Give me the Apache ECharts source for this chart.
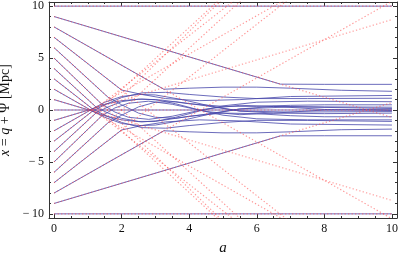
<!DOCTYPE html>
<html><head><meta charset="utf-8">
<script src="https://cdn.jsdelivr.net/npm/echarts@6/dist/echarts.min.js"></script>
<style>html,body{margin:0;padding:0;background:#fff}#c{width:399px;height:255px}</style>
</head><body><div id="c"></div>
<script>
// Lagrangian sheet positions q (start values at a = 0)
const qValues = [-10,-9,-8,-7,-6,-5,-4,-3,-2,-1,0,1,2,3,4,5,6,7,8,9,10];
// Zel'dovich straight-line end values at a = 10 (dotted red lines), same order as qValues
const zaEndAt10 = [-10,0.71,10.47,18.42,23.88,26.42,25.88,22.42,16.47,8.71,0,-8.71,-16.47,-22.42,-25.88,-26.42,-23.88,-18.42,-10.47,-0.71,10];

// actual trajectories (blue/purple), [a, x]
const sheetM10 = [[0,-10],[10,-10]];
const sheetM9 = [[0,-9],[6.7,-2.49],[8,-2.48],[10,-2.48]];
const sheetM8 = [[0,-8],[3.25,-2.0],[4,-2.1],[5,-2.2],[6,-2.2],[7,-2.1],[8.5,-1.9],[10,-1.84]];
const sheetM7 = [[0,-7],[2.0,-1.92],[2.6,-1.5],[3.3,-1.15],[4.3,-0.95],[5.5,-1.05],[7,-1.35],[10,-1.45]];
const sheetM6 = [[0,-6],[1.6,-1.22],[2,-0.5],[2.5,0.3],[3,0.75],[3.6,0.8],[4.5,0.4],[5.5,-0.1],[7,-0.2],[10,-0.15]];
const sheetM5 = [[0,-5],[1.4,-0.6],[1.8,0.2],[2.2,0.65],[2.8,0.85],[3.5,0.55],[4.5,-0.15],[5.5,-0.45],[6.5,-0.3],[8,0.0],[10,0.08]];
const sheetM4 = [[0,-4],[1.25,-0.26],[1.6,0.3],[2,0.8],[2.5,1.05],[3,1.0],[3.6,0.6],[4.3,0.0],[5,-0.5],[6,-0.85],[7.5,-0.95],[10,-0.95]];
const sheetM3 = [[0,-3],[1.13,-0.13],[1.5,0.5],[2,1.2],[2.6,1.65],[3.3,1.7],[4,1.5],[5,1.25],[6,1.1],[7.5,1.1],[10,1.13]];
const sheetM2 = [[0,-2],[1.08,0],[1.5,0.75],[2,1.3],[2.5,1.5],[3,1.45],[3.8,1.0],[4.6,0.4],[5.5,-0.1],[6.5,-0.3],[8,-0.35],[10,-0.3]];
const sheetM1 = [[0,-1],[1.05,0.02],[1.5,0.55],[2,0.9],[2.6,1.05],[3.2,0.95],[4,0.6],[5,0.35],[6,0.35],[7,0.45],[8,0.5],[10,0.5]];
const sheet0 = [[0,0],[10,0]];
const sheetP1 = [[0,1],[1.05,-0.02],[1.5,-0.55],[2,-0.95],[2.6,-1.15],[3.2,-1.0],[4,-0.6],[5,-0.3],[6,-0.35],[7,-0.55],[8,-0.65],[10,-0.65]];
const sheetP2 = [[0,2],[1.08,0],[1.5,-0.7],[2,-1.3],[2.5,-1.5],[3,-1.45],[3.8,-1.0],[4.6,-0.4],[5.5,0.1],[6.5,0.35],[8,0.3],[10,0.27]];
const sheetP3 = [[0,3],[1.13,0.13],[1.5,-0.5],[2,-1.2],[2.6,-1.7],[3.3,-1.75],[4,-1.5],[5,-1.2],[6,-1.0],[7.5,-1.0],[10,-1.1]];
const sheetP4 = [[0,4],[1.25,0.26],[1.6,-0.3],[2,-0.8],[2.5,-1.1],[3,-1.1],[3.6,-0.7],[4.3,-0.1],[5,0.4],[6,0.75],[7.5,0.85],[10,0.8]];
const sheetP5 = [[0,5],[1.4,0.6],[1.8,-0.2],[2.2,-0.7],[2.8,-0.9],[3.5,-0.6],[4.5,0.1],[5.5,0.45],[6.5,0.35],[8,0.05],[10,-0.05]];
const sheetP6 = [[0,6],[1.6,1.22],[2,0.5],[2.5,-0.3],[3,-0.7],[3.6,-0.8],[4.5,-0.4],[5.5,0.1],[7,0.3],[10,0.15]];
const sheetP7 = [[0,7],[2.0,1.92],[2.6,1.5],[3.3,1.1],[4.3,0.9],[5.5,1.0],[7,1.3],[10,1.4]];
const sheetP8 = [[0,8],[3.25,2.0],[4,2.1],[5,2.2],[6,2.2],[7,2.1],[8.5,1.9],[10,1.8]];
const sheetP9 = [[0,9],[6.7,2.49],[8,2.47],[10,2.47]];
const sheetP10 = [[0,10],[10,10]];

const xMajorTicks = [0,2,4,6,8,10];
const xMinorTicks = [0.5,1,1.5,2.5,3,3.5,4.5,5,5.5,6.5,7,7.5,8.5,9,9.5];
const yMajorTicks = [-10,-5,0,5,10];
const yMinorTicks = [-9,-8,-7,-6,-4,-3,-2,-1,1,2,3,4,6,7,8,9];

const sheets = [sheetM10,sheetM9,sheetM8,sheetM7,sheetM6,sheetM5,sheetM4,sheetM3,sheetM2,sheetM1,sheet0,
                sheetP1,sheetP2,sheetP3,sheetP4,sheetP5,sheetP6,sheetP7,sheetP8,sheetP9,sheetP10];

const FONT = 'Liberation Serif';
const frameColor = '#333';
const series = [];
sheets.forEach(d => series.push({
  type:'line', data:d, showSymbol:false, symbol:'none', silent:true, clip:true,
  lineStyle:{color:'#4646aa', width:1, opacity:0.8}, z:2
}));
qValues.forEach((q,i) => series.push({
  type:'line', data:[[0,q],[10,zaEndAt10[i]]], showSymbol:false, symbol:'none', silent:true, clip:true,
  lineStyle:{color:'#ff4a4a', width:1.1, opacity:0.6, type:[1.3,2.2]}, z:3
}));

function mkX(pos, ticks, len, labels, line){
  return {type:'value', min:-0.15, max:10.15, position:pos,
    axisLine:{show:line, onZero:false, lineStyle:{color:frameColor,width:1}},
    axisTick:{show:true, inside:true, length:len, customValues:ticks, lineStyle:{color:frameColor,width:1}},
    axisLabel:{show:labels, customValues:ticks, margin:5, fontFamily:FONT, fontSize:12, color:'#111'},
    splitLine:{show:false}};
}
function mkY(pos, ticks, len, labels, line){
  return {type:'value', min:-10.4, max:10.4, position:pos,
    axisLine:{show:line, onZero:false, lineStyle:{color:frameColor,width:1}},
    axisTick:{show:true, inside:true, length:len, customValues:ticks, lineStyle:{color:frameColor,width:1}},
    axisLabel:{show:labels, customValues:ticks, margin:5, fontFamily:FONT, fontSize:12, color:'#111',
      formatter: v => v < 0 ? '\u2212\u2009' + Math.abs(v) : String(v)},
    splitLine:{show:false}};
}
const x0 = mkX('bottom', xMajorTicks, 4, true, true);
x0.name = 'a'; x0.nameLocation = 'middle'; x0.nameGap = 23;
x0.nameTextStyle = {fontFamily:FONT, fontStyle:'italic', fontSize:15, color:'#111'};
const y0 = mkY('left', yMajorTicks, 4, true, true);
y0.name = '{i|x} = {i|q} + Ψ [Mpc]'; y0.nameLocation = 'middle'; y0.nameGap = 37; y0.nameRotate = 90;
y0.nameTextStyle = {fontFamily:FONT, fontSize:14, color:'#111',
  rich:{i:{fontFamily:FONT, fontStyle:'italic', fontSize:14, color:'#111'}}};

const option = {
  animation:false,
  grid:{left:49, right:2, top:2, bottom:37, containLabel:false, outerBoundsMode:'none'},
  xAxis:[x0, mkX('bottom', xMinorTicks, 2, false, false), mkX('top', xMajorTicks, 4, false, true), mkX('top', xMinorTicks, 2, false, false)],
  yAxis:[y0, mkY('left', yMinorTicks, 2, false, false), mkY('right', yMajorTicks, 4, false, true), mkY('right', yMinorTicks, 2, false, false)],
  series
};
const chart = echarts.init(document.getElementById('c'), null, {renderer:'canvas'});
chart.setOption(option);
</script></body></html>
